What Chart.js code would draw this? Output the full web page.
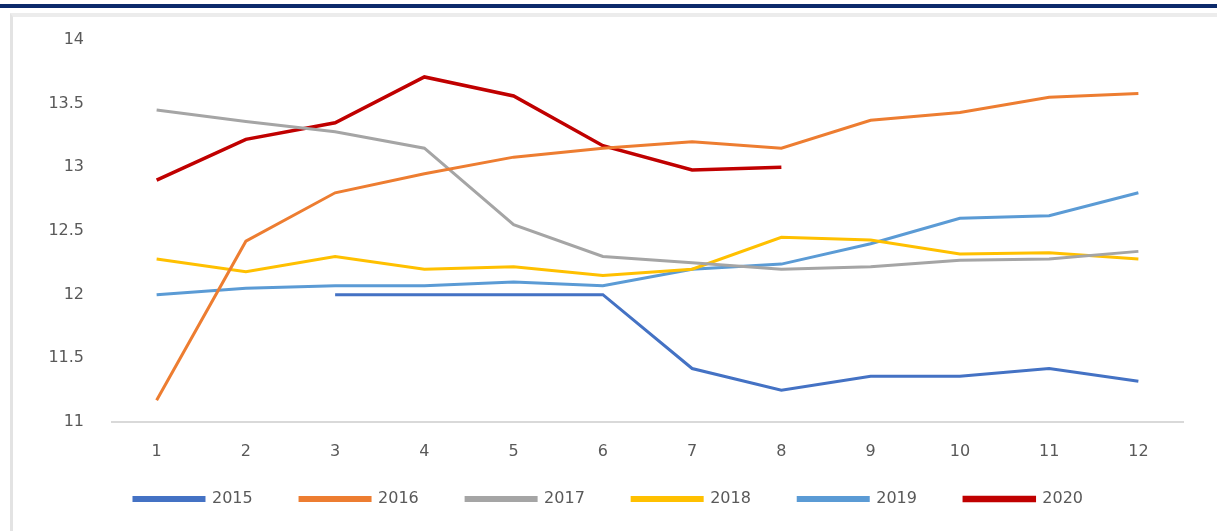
<!DOCTYPE html>
<html>
<head>
<meta charset="utf-8">
<script src="https://cdn.jsdelivr.net/npm/chart.js@4.4.1/dist/chart.umd.min.js"></script>
<style>
  html, body { margin: 0; padding: 0; background: #fff; }
  #wrap { position: relative; width: 1217px; height: 531px; overflow: hidden; }
  #topbar { position: absolute; left: 0; top: 4px; width: 1217px; height: 4px; background: #0c2a6b; }
  #frame { position: absolute; left: 10px; top: 13px; width: 1220px; height: 514px;
           border-left: 3px solid #e3e3e3; border-top: 4px solid #ececec; border-bottom: 3px solid #efefef; }
  #c { position: absolute; left: 0; top: 0; }
</style>
</head>
<body>
<div id="wrap">
  <div id="topbar"></div>
  <div id="frame"></div>
  <canvas id="c" width="1217" height="531"></canvas>
</div>
<script>
const months = ['1', '2', '3', '4', '5', '6', '7', '8', '9', '10', '11', '12'];

const y2015 = [null, null, 12.0, 12.0, 12.0, 12.0, 11.42, 11.25, 11.36, 11.36, 11.42, 11.32];
const y2016 = [11.17, 12.42, 12.8, 12.95, 13.08, 13.15, 13.2, 13.15, 13.37, 13.43, 13.55, 13.58];
const y2017 = [13.45, 13.36, 13.28, 13.15, 12.55, 12.3, 12.25, 12.2, 12.22, 12.27, 12.28, 12.34];
const y2018 = [12.28, 12.18, 12.3, 12.2, 12.22, 12.15, 12.2, 12.45, 12.43, 12.32, 12.33, 12.28];
const y2019 = [12.0, 12.05, 12.07, 12.07, 12.1, 12.07, 12.2, 12.24, 12.4, 12.6, 12.62, 12.8];
const y2020 = [12.9, 13.22, 13.35, 13.71, 13.56, 13.17, 12.98, 13.0];

const yTicks = [11, 11.5, 12, 12.5, 13, 13.5, 14];

const textFont = { family: 'DejaVu Sans', size: 16 };

function line(label, values, color, width) {
  return {
    label: label,
    data: values,
    borderColor: color,
    backgroundColor: color,
    borderWidth: width,
    pointRadius: 0,
    tension: 0,
    spanGaps: false
  };
}

// trailing spaces widen the legend items without making the legend taller
function legendLabels(chart) {
  const items = Chart.defaults.plugins.legend.labels.generateLabels(chart);
  const last = items.length - 1;
  return items.map((it, i) => Object.assign(it, { text: it.text + (i < last ? '    ' : '') }));
}

const ctx = document.getElementById('c').getContext('2d');
new Chart(ctx, {
  type: 'line',
  data: {
    labels: months,
    datasets: [
      line('2015', y2015, '#4472C4', 3),
      line('2016', y2016, '#ED7D31', 3),
      line('2017', y2017, '#A5A5A5', 3),
      line('2018', y2018, '#FFC000', 3),
      line('2019', y2019, '#5B9BD5', 3),
      line('2020', y2020, '#C00000', 3.5)
    ]
  },
  options: {
    responsive: false,
    animation: false,
    layout: { padding: { left: 34, right: 34, top: 40, bottom: 14 } },
    plugins: {
      legend: {
        position: 'bottom',
        labels: {
          boxWidth: 70,
          boxHeight: 3,
          padding: 27,
          color: '#595959',
          font: textFont,
          generateLabels: legendLabels
        }
      },
      tooltip: { enabled: false }
    },
    scales: {
      x: {
        offset: true,
        grid: { display: false, drawTicks: false },
        border: { display: true, color: '#d9d9d9', width: 2 },
        ticks: { color: '#595959', font: textFont, padding: 20 },
        afterFit: s => { s.height = 42; }
      },
      y: {
        min: 11,
        max: 14,
        afterBuildTicks: s => { s.ticks = yTicks.map(v => ({ value: v })); },
        grid: { display: false, drawTicks: false },
        border: { display: false },
        ticks: { color: '#595959', font: textFont, padding: 28, callback: v => String(v) },
        afterFit: s => { s.width = 78; }
      }
    }
  }
});
</script>
</body>
</html>
